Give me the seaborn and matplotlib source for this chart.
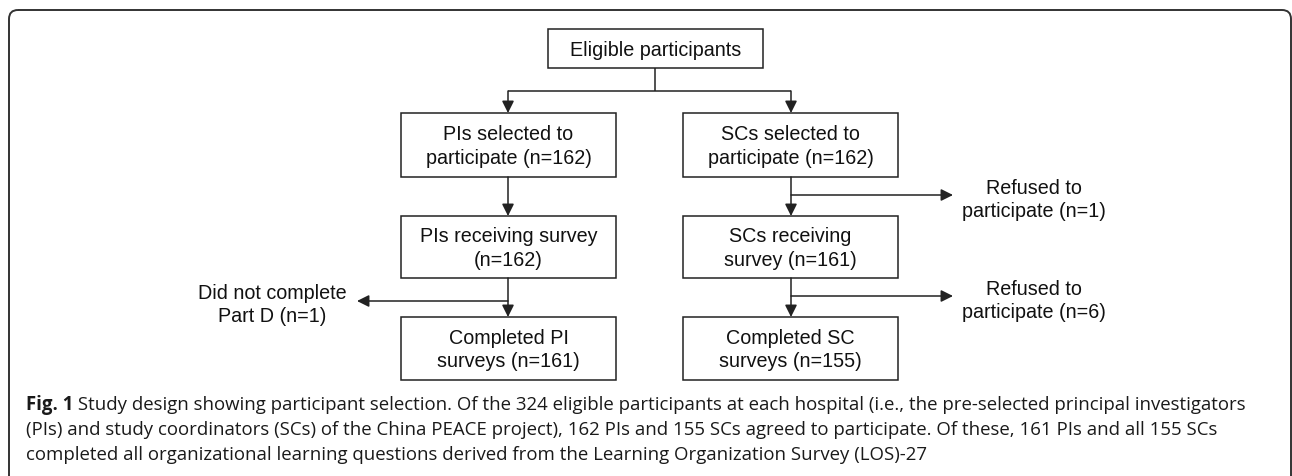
import matplotlib
matplotlib.use("Agg")
import matplotlib.pyplot as plt
import seaborn as sns
from matplotlib.patches import FancyBboxPatch, Rectangle

sns.set_theme(style="white")
plt.rcParams['font.family'] = ['Liberation Sans', 'DejaVu Sans']

# ---- content ----
top_label = "Eligible participants"
pi_labels = ["PIs selected to\nparticipate (n={})",
             "PIs receiving survey\n(n={})",
             "Completed PI\nsurveys (n={})"]
pi_counts = [162, 162, 161]
sc_labels = ["SCs selected to\nparticipate (n={})",
             "SCs receiving\nsurvey (n={})",
             "Completed SC\nsurveys (n={})"]
sc_counts = [162, 161, 155]
pi_excl_labels = ["Did not complete\nPart D (n={})"]
pi_excl_counts = [1]
sc_excl_labels = ["Refused to\nparticipate (n={})", "Refused to\nparticipate (n={})"]
sc_excl_counts = [1, 6]
caption_bold = "Fig. 1"
caption_lines = [
    " Study design showing participant selection. Of the 324 eligible participants at each hospital (i.e., the pre-selected principal investigators",
    "(PIs) and study coordinators (SCs) of the China PEACE project), 162 PIs and 155 SCs agreed to participate. Of these, 161 PIs and all 155 SCs",
    "completed all organizational learning questions derived from the Learning Organization Survey (LOS)-27",
]

# ---- layout (pixel space) ----
W, H = 1292, 476
fig = plt.figure(figsize=(W / 100, H / 100), dpi=100)
ax = fig.add_axes([0, 0, 1, 1])
ax.set_xlim(0, W)
ax.set_ylim(H, 0)
ax.axis("off")

lc = "#222222"
tc = "#111111"
lw = 1.1
fs = 14.2
ls = 1.28

# outer frame
frame = FancyBboxPatch((9, 10), 1282, 520, boxstyle="round,pad=0,rounding_size=9",
                       fill=False, ec="#333333", lw=1.4)
ax.add_patch(frame)

def box(x0, y0, x1, y1, text):
    ax.add_patch(Rectangle((x0, y0), x1 - x0, y1 - y0, fill=False, ec=lc, lw=lw))
    ax.text((x0 + x1) / 2, (y0 + y1) / 2 + 1.5, text, ha="center", va="center",
            fontsize=fs, color=tc, linespacing=ls)

def arrow(x0, y0, x1, y1):
    ax.annotate("", xy=(x1, y1), xytext=(x0, y0),
                arrowprops=dict(arrowstyle="-|>,head_length=0.6,head_width=0.3",
                                color=lc, lw=lw, shrinkA=0, shrinkB=0))

def line(xs, ys):
    ax.plot(xs, ys, color=lc, lw=lw, solid_capstyle="butt")

# top box
box(548, 29, 763, 68, top_label)
cx_pi, cx_sc = 508, 791
line([655, 655], [68, 91])
line([cx_pi, cx_sc], [91, 91])
arrow(cx_pi, 91, cx_pi, 113)
arrow(cx_sc, 91, cx_sc, 113)

rows = [(113, 177), (216, 278), (317, 380)]
for i, (y0, y1) in enumerate(rows):
    box(401, y0, 616, y1, pi_labels[i].format(pi_counts[i]))
    box(683, y0, 898, y1, sc_labels[i].format(sc_counts[i]))
    if i < len(rows) - 1:
        arrow(cx_pi, y1, cx_pi, rows[i + 1][0])
        arrow(cx_sc, y1, cx_sc, rows[i + 1][0])

# exclusions on SC side
for j, ya in enumerate([195, 296]):
    arrow(cx_sc, ya, 953, ya)
    ax.text(1034, ya + 5, sc_excl_labels[j].format(sc_excl_counts[j]),
            ha="center", va="center", fontsize=fs, color=tc, linespacing=ls)

# exclusion on PI side
arrow(cx_pi, 301, 357, 301)
ax.text(272, 305, pi_excl_labels[0].format(pi_excl_counts[0]),
        ha="center", va="center", fontsize=fs, color=tc, linespacing=ls)

# caption
cfont = ['Open Sans', 'DejaVu Sans']
cfs = 13.4
cc = "#1a1a1a"
x0c = 26
ys = [405, 430, 455]
t_bold = ax.text(x0c, ys[0], caption_bold, ha="left", va="center", fontsize=cfs,
                 fontweight="bold", family=cfont, color=cc)
fig.canvas.draw()
r = fig.canvas.get_renderer()
bb = t_bold.get_window_extent(renderer=r)
inv = ax.transData.inverted()
xend = inv.transform((bb.x1, bb.y0))[0]
ax.text(xend, ys[0], caption_lines[0], ha="left", va="center", fontsize=cfs,
        family=cfont, color=cc)
for k in (1, 2):
    ax.text(x0c, ys[k], caption_lines[k], ha="left", va="center", fontsize=cfs,
            family=cfont, color=cc)

fig.savefig("out.png", dpi=100)
